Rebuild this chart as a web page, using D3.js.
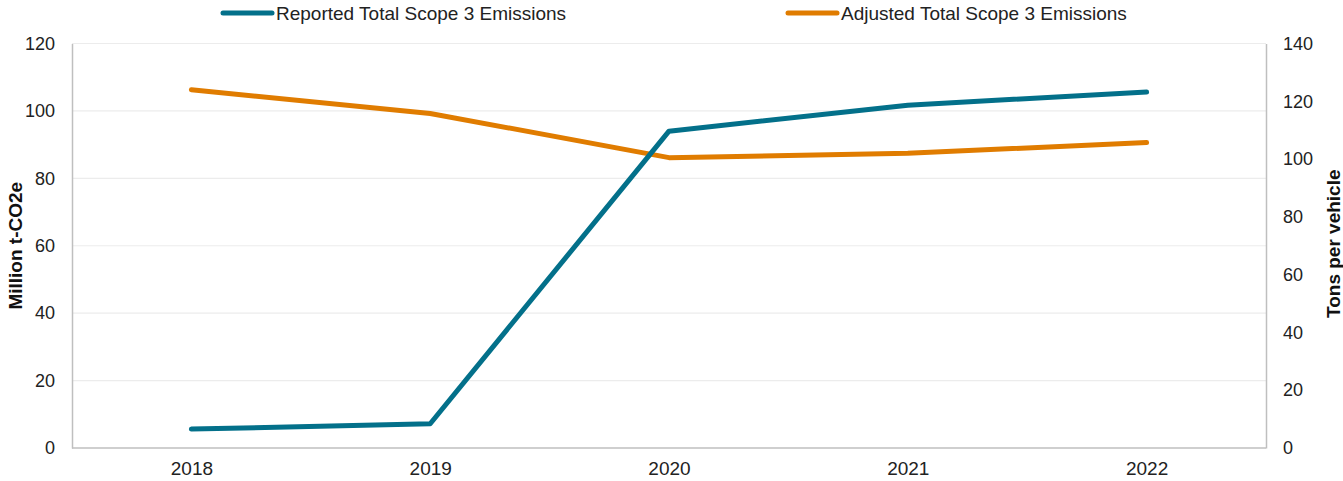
<!DOCTYPE html>
<html>
<head>
<meta charset="utf-8">
<script src="https://cdn.jsdelivr.net/npm/d3@7"></script>
<style>
  body { margin: 0; background: #fff; }
  svg { display: block; font-family: "Liberation Sans", Arial, sans-serif; }
</style>
</head>
<body>
<svg id="chart" width="1343" height="481"></svg>
<script>
// data
const years = ["2018", "2019", "2020", "2021", "2022"];
const reported = [5.6, 7.2, 94.0, 101.7, 105.6];      // Million t-CO2e, left axis
const adjusted = [124.0, 115.8, 100.5, 102.0, 105.7]; // Tons per vehicle, right axis
const leftTicks = [0, 20, 40, 60, 80, 100, 120];
const rightTicks = [0, 20, 40, 60, 80, 100, 120, 140];

const TEAL = "#03708a";
const ORANGE = "#e07c00";

const svg = d3.select("#chart");
const m = { left: 72, right: 1266, top: 43.5, bottom: 448 };

const x = d3.scalePoint().domain(years).range([m.left, m.right]).padding(0.5);
const yL = d3.scaleLinear().domain([0, 120]).range([m.bottom, m.top]);
const yR = d3.scaleLinear().domain([0, 140]).range([m.bottom, m.top]);

// gridlines
svg.append("g")
  .selectAll("line")
  .data(leftTicks.slice(1))
  .join("line")
  .attr("x1", m.left).attr("x2", m.right)
  .attr("y1", d => yL(d)).attr("y2", d => yL(d))
  .attr("stroke", "#ececec")
  .attr("stroke-width", 1.2);

// axes
const axL = svg.append("g")
  .attr("transform", `translate(${m.left},0)`)
  .call(d3.axisLeft(yL).tickValues(leftTicks).tickSize(0).tickPadding(17));
const axR = svg.append("g")
  .attr("transform", `translate(${m.right},0)`)
  .call(d3.axisRight(yR).tickValues(rightTicks).tickSize(0).tickPadding(17));
const axB = svg.append("g")
  .attr("transform", `translate(0,${m.bottom})`)
  .call(d3.axisBottom(x).tickSize(0).tickPadding(14));

[axL, axR, axB].forEach(g => {
  g.select(".domain").attr("stroke", "#bfbfbf").attr("stroke-width", 1.5);
  g.selectAll("text").attr("font-size", 18).attr("fill", "#222")
    .attr("font-family", "Liberation Sans, Arial, sans-serif");
});
axB.selectAll("text").attr("font-size", 19);
axB.select(".domain").attr("d", `M${m.left},0H${m.right}`);

// axis titles
svg.append("text")
  .attr("transform", `translate(22,${(m.top + m.bottom) / 2}) rotate(-90)`)
  .attr("text-anchor", "middle")
  .attr("font-size", 19).attr("font-weight", "bold").attr("fill", "#111")
  .text("Million t-CO2e");
svg.append("text")
  .attr("transform", `translate(1340,${(m.top + m.bottom) / 2 - 2}) rotate(-90)`)
  .attr("text-anchor", "middle")
  .attr("font-size", 19).attr("font-weight", "bold").attr("fill", "#111")
  .text("Tons per vehicle");

// lines
const lineL = d3.line().x((d, i) => x(years[i])).y(d => yL(d));
const lineR = d3.line().x((d, i) => x(years[i])).y(d => yR(d));

svg.append("path").datum(adjusted)
  .attr("d", lineR)
  .attr("fill", "none").attr("stroke", ORANGE)
  .attr("stroke-width", 5).attr("stroke-linecap", "round").attr("stroke-linejoin", "round");
svg.append("path").datum(reported)
  .attr("d", lineL)
  .attr("fill", "none").attr("stroke", TEAL)
  .attr("stroke-width", 5).attr("stroke-linecap", "round").attr("stroke-linejoin", "round");

// legend
const legend = [
  { label: "Reported Total Scope 3 Emissions", color: TEAL, x: 223 },
  { label: "Adjusted Total Scope 3 Emissions", color: ORANGE, x: 788 }
];
const lg = svg.append("g").selectAll("g").data(legend).join("g")
  .attr("transform", d => `translate(${d.x},13)`);
lg.append("line")
  .attr("x1", 0).attr("x2", 49)
  .attr("stroke", d => d.color).attr("stroke-width", 5).attr("stroke-linecap", "round");
lg.append("text")
  .attr("x", 53).attr("dy", "0.35em")
  .attr("font-size", 19).attr("fill", "#222")
  .text(d => d.label);
</script>
</body>
</html>
